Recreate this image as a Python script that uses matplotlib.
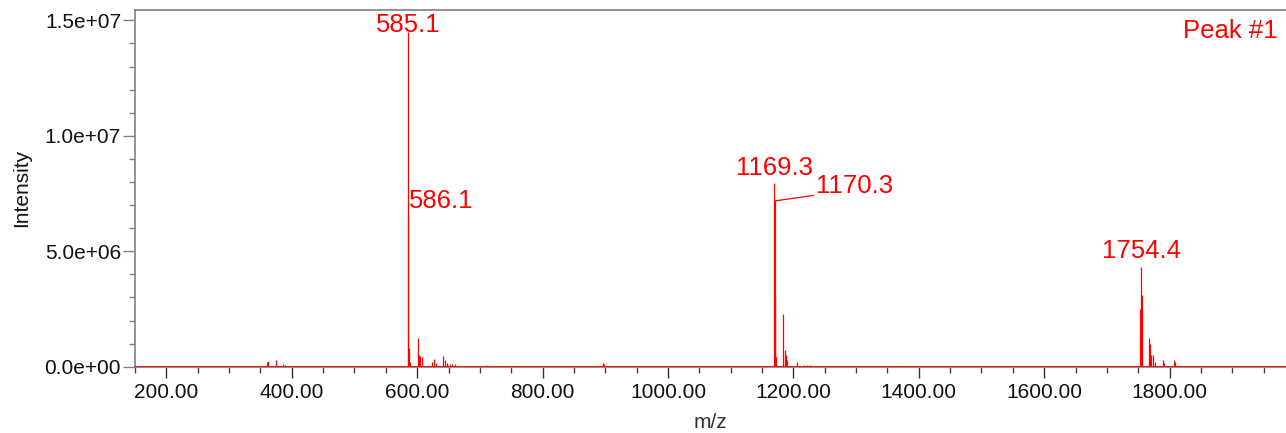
import matplotlib
matplotlib.use("Agg")
import matplotlib.pyplot as plt
from matplotlib.ticker import MultipleLocator, FuncFormatter

plt.rcParams['font.family'] = ['Liberation Sans', 'DejaVu Sans']

# ---- data (m/z, intensity) ----
peak_mz = [360, 362, 375, 386, 389,
           585.1, 586.1, 587.1, 588.1, 601.5, 603, 605, 607, 624, 627, 630,
           642, 644, 647, 652, 655, 660, 668, 710, 736, 757, 896, 898,
           1169.3, 1170.3, 1171.3, 1172.3, 1184, 1186, 1188, 1190, 1206,
           1217, 1222, 1227, 1369,
           1753.4, 1754.4, 1755.4, 1756.4, 1767, 1769, 1771, 1774, 1776,
           1789, 1791, 1807, 1809, 1819]
peak_int = [0.22e6, 0.25e6, 0.30e6, 0.13e6, 0.08e6,
            14.5e6, 6.57e6, 0.81e6, 0.2e6, 1.26e6, 0.5e6, 0.45e6, 0.4e6, 0.2e6, 0.35e6, 0.15e6,
            0.46e6, 0.3e6, 0.15e6, 0.12e6, 0.12e6, 0.1e6, 0.05e6, 0.06e6, 0.04e6, 0.04e6, 0.18e6, 0.1e6,
            7.94e6, 7.18e6, 3.1e6, 0.4e6, 2.27e6, 0.72e6, 0.5e6, 0.3e6, 0.2e6,
            0.06e6, 0.06e6, 0.06e6, 0.05e6,
            2.5e6, 4.33e6, 3.1e6, 0.3e6, 1.23e6, 0.98e6, 0.5e6, 0.5e6, 0.2e6,
            0.3e6, 0.15e6, 0.28e6, 0.2e6, 0.05e6]

label_mz = [585.1, 586.1, 1169.3, 1170.3, 1754.4]
label_text = ["585.1", "586.1", "1169.3", "1170.3", "1754.4"]

x_range = (150, 1985)
y_range = (0, 1.545e7)

RED = '#ff0000'
GREY = '#808080'

fig = plt.figure(figsize=(12.86, 4.33), dpi=100)
W, H = 1286.0, 433.0
px_per_unit = 1160 / 1850.0
ax_w = (x_range[1] - x_range[0]) * px_per_unit
ax = fig.add_axes([135 / W, (H - 366.7) / H, ax_w / W, 356.7 / H])

ax.axhline(0, color=RED, lw=1.3, zorder=3)
ax.vlines(peak_mz, 0, peak_int, color=RED, lw=0.9, zorder=3)

ax.set_xlim(*x_range)
ax.set_ylim(*y_range)

lookup = dict(zip(peak_mz, peak_int))
# label placement: (ha, dx px, dy px)
place = {"585.1": ('center', 0, 0),
         "586.1": ('left', 0, 7),
         "1169.3": ('center', 0, 8),
         "1754.4": ('center', 0, 9)}
fs_lab = 18.5
for mz, txt in zip(label_mz, label_text):
    y = lookup[mz]
    if txt == "1170.3":
        ax.annotate(txt, xy=(mz, y), xytext=(30, 5.8), textcoords='offset points',
                    ha='left', va='baseline', color=RED, fontsize=fs_lab,
                    arrowprops=dict(arrowstyle='-', color=RED, lw=0.9,
                                    shrinkA=0, shrinkB=0, relpos=(0, 0.12)),
                    zorder=4)
    else:
        ha, dx, dy = place[txt]
        ax.annotate(txt, xy=(mz, y), xytext=(dx * 0.72, dy * 0.72),
                    textcoords='offset points', ha=ha, va='baseline',
                    color=RED, fontsize=fs_lab, zorder=4)

ax.text((1278 - 135) / ax_w, 0.9215, "Peak #1", transform=ax.transAxes, ha='right',
        va='baseline', color=RED, fontsize=fs_lab)

# ticks
ax.xaxis.set_major_locator(MultipleLocator(200))
ax.xaxis.set_minor_locator(MultipleLocator(50))
ax.yaxis.set_major_locator(MultipleLocator(5e6))
ax.yaxis.set_minor_locator(MultipleLocator(1e6))
ax.xaxis.set_major_formatter(FuncFormatter(lambda v, p: f"{v:.2f}"))
ax.yaxis.set_major_formatter(FuncFormatter(lambda v, p: f"{v:.1e}"))

ax.tick_params(axis='x', which='major', length=8, width=1, color='#333333',
               labelsize=15, pad=4, labelcolor='#111111')
ax.tick_params(axis='x', which='minor', length=4, width=1, color='#444444')
ax.tick_params(axis='y', which='major', length=9, width=1, color=GREY,
               labelsize=15, pad=1, labelcolor='#111111')
ax.tick_params(axis='y', which='minor', length=4.5, width=1, color=GREY)

for s in ['top', 'left', 'bottom']:
    ax.spines[s].set_color(GREY)
    ax.spines[s].set_linewidth(1.2)
ax.spines['right'].set_visible(False)

ax.set_xlabel("m/z", fontsize=15, color='#333333', labelpad=7.5)
ax.set_ylabel("Intensity", fontsize=15, color='#111111', labelpad=10)

fig.savefig("out.png", dpi=100)
